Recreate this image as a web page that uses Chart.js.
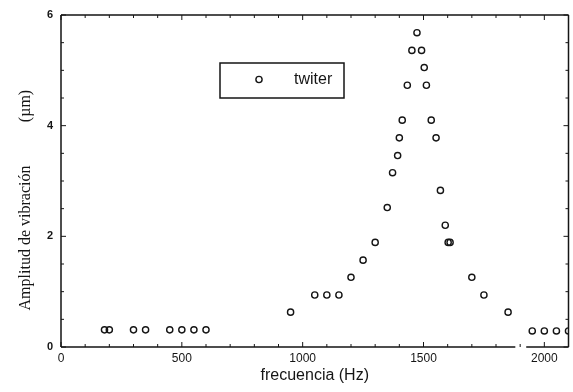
<!DOCTYPE html>
<html><head><meta charset="utf-8">
<script src="https://cdn.jsdelivr.net/npm/chart.js@4.4.0/dist/chart.umd.min.js"></script>
<style>html,body{margin:0;padding:0;background:#fff;}#wrap{width:573px;height:392px;}</style>
</head><body><div id="wrap"><canvas id="c" width="573" height="392"></canvas></div>
<script>
const seriesName = 'twiter';
const frequencies = [180, 200, 300, 350, 450, 500, 550, 600, 950, 1050, 1100, 1150, 1200, 1250, 1300, 1350, 1372, 1393, 1400, 1412, 1433, 1452, 1473, 1492, 1503, 1512, 1532, 1552, 1570, 1590, 1602, 1610, 1700, 1750, 1850, 1950, 2000, 2050, 2100];
const amplitudes  = [0.31, 0.31, 0.31, 0.31, 0.31, 0.31, 0.31, 0.31, 0.63, 0.94, 0.94, 0.94, 1.26, 1.57, 1.89, 2.52, 3.15, 3.46, 3.78, 4.10, 4.73, 5.36, 5.68, 5.36, 5.05, 4.73, 4.10, 3.78, 2.83, 2.20, 1.89, 1.89, 1.26, 0.94, 0.63, 0.29, 0.29, 0.29, 0.29];
const xTickValues = [0, 500, 1000, 1500, 2000];
const yTickValues = [0, 2, 4, 6];
const xTitle = 'frecuencia (Hz)';
const yTitleMain = 'Amplitud de vibración';
const yTitleUnit = '(µm)';

const INK = '#151515';

const framePlugin = {
  id: 'frame',
  afterDatasetsDraw(chart) {
    const ctx = chart.ctx;
    const xs = chart.scales.x, ys = chart.scales.y;
    const a = chart.chartArea;
    ctx.save();
    ctx.strokeStyle = INK;
    ctx.lineWidth = 1.5;
    ctx.beginPath();
    ctx.moveTo(a.left, a.top); ctx.lineTo(a.left, a.bottom);
    ctx.moveTo(a.right, a.top); ctx.lineTo(a.right, a.bottom);
    ctx.moveTo(a.left, a.top); ctx.lineTo(a.right, a.top);
    ctx.moveTo(a.left, a.bottom); ctx.lineTo(xs.getPixelForValue(1880), a.bottom);
    ctx.moveTo(xs.getPixelForValue(1925), a.bottom); ctx.lineTo(a.right, a.bottom);
    ctx.stroke();
    ctx.lineWidth = 1;
    ctx.beginPath();
    for (let v = 0; v <= xs.max; v += 100) {
      const px = xs.getPixelForValue(v);
      const len = (v % 500 === 0) ? 5 : 3;
      ctx.moveTo(px, a.bottom); ctx.lineTo(px, a.bottom - len);
      ctx.moveTo(px, a.top); ctx.lineTo(px, a.top + len);
    }
    for (let v = 0; v <= ys.max + 1e-9; v += 0.5) {
      const py = ys.getPixelForValue(v);
      const len = (Math.abs(v % 2) < 1e-9) ? 5 : 3;
      ctx.moveTo(a.left, py); ctx.lineTo(a.left + len, py);
      ctx.moveTo(a.right, py); ctx.lineTo(a.right - len, py);
    }
    ctx.stroke();
    const lx = 220, ly = 63, lw = 124, lh = 35;
    ctx.fillStyle = '#fff';
    ctx.fillRect(lx, ly, lw, lh);
    ctx.lineWidth = 1.5;
    ctx.strokeRect(lx, ly, lw, lh);
    const ds = chart.data.datasets[0];
    ctx.beginPath();
    ctx.lineWidth = ds.pointBorderWidth;
    ctx.arc(259, 79.5, ds.pointRadius, 0, Math.PI * 2);
    ctx.stroke();
    ctx.fillStyle = INK;
    ctx.font = '16px "Liberation Sans", Arial, sans-serif';
    ctx.textBaseline = 'middle';
    ctx.textAlign = 'left';
    ctx.fillText(ds.label, 294, 80);
    ctx.save();
    ctx.translate(26, 0);
    ctx.rotate(-Math.PI / 2);
    ctx.font = '16px "Liberation Serif", "Times New Roman", serif';
    ctx.textAlign = 'center';
    ctx.textBaseline = 'middle';
    ctx.fillText(yTitleMain, -238, 0);
    ctx.fillText(yTitleUnit, -106, 0);
    ctx.restore();
    ctx.restore();
  }
};

new Chart(document.getElementById('c'), {
  type: 'scatter',
  data: {
    datasets: [{
      label: seriesName,
      data: frequencies.map((f, i) => ({x: f, y: amplitudes[i]})),
      pointStyle: 'circle',
      pointRadius: 3.1,
      pointBorderWidth: 1.4,
      borderColor: INK,
      backgroundColor: 'rgba(255,255,255,0)',
      pointHoverRadius: 3.1,
      clip: 0
    }]
  },
  options: {
    responsive: false,
    animation: false,
    devicePixelRatio: 1,
    layout: {padding: {top: 15, right: 1, left: 0, bottom: 0}},
    plugins: {legend: {display: false}, tooltip: {enabled: false}},
    scales: {
      x: {
        type: 'linear', min: 0, max: 2100,
        border: {display: false},
        grid: {display: false, drawTicks: false},
        afterBuildTicks: s => { s.ticks = xTickValues.map(v => ({value: v})); },
        afterFit: s => { s.height = 45; },
        ticks: {
          padding: 4, color: INK, maxRotation: 0,
          callback: v => String(v),
          font: {family: '"Liberation Sans", Arial, sans-serif', size: 12}
        },
        title: {
          display: true, text: xTitle, color: INK,
          font: {family: '"Liberation Sans", Arial, sans-serif', size: 16},
          padding: {top: 0, bottom: 7}
        }
      },
      y: {
        type: 'linear', min: 0, max: 6,
        border: {display: false},
        grid: {display: false, drawTicks: false},
        afterBuildTicks: s => { s.ticks = yTickValues.map(v => ({value: v})); },
        afterFit: s => { s.width = 61; },
        ticks: {
          padding: 8, color: INK,
          callback: v => String(v),
          font: {family: '"Liberation Sans", Arial, sans-serif', size: 11, weight: 'bold'}
        }
      }
    }
  },
  plugins: [framePlugin]
});
</script></body></html>
